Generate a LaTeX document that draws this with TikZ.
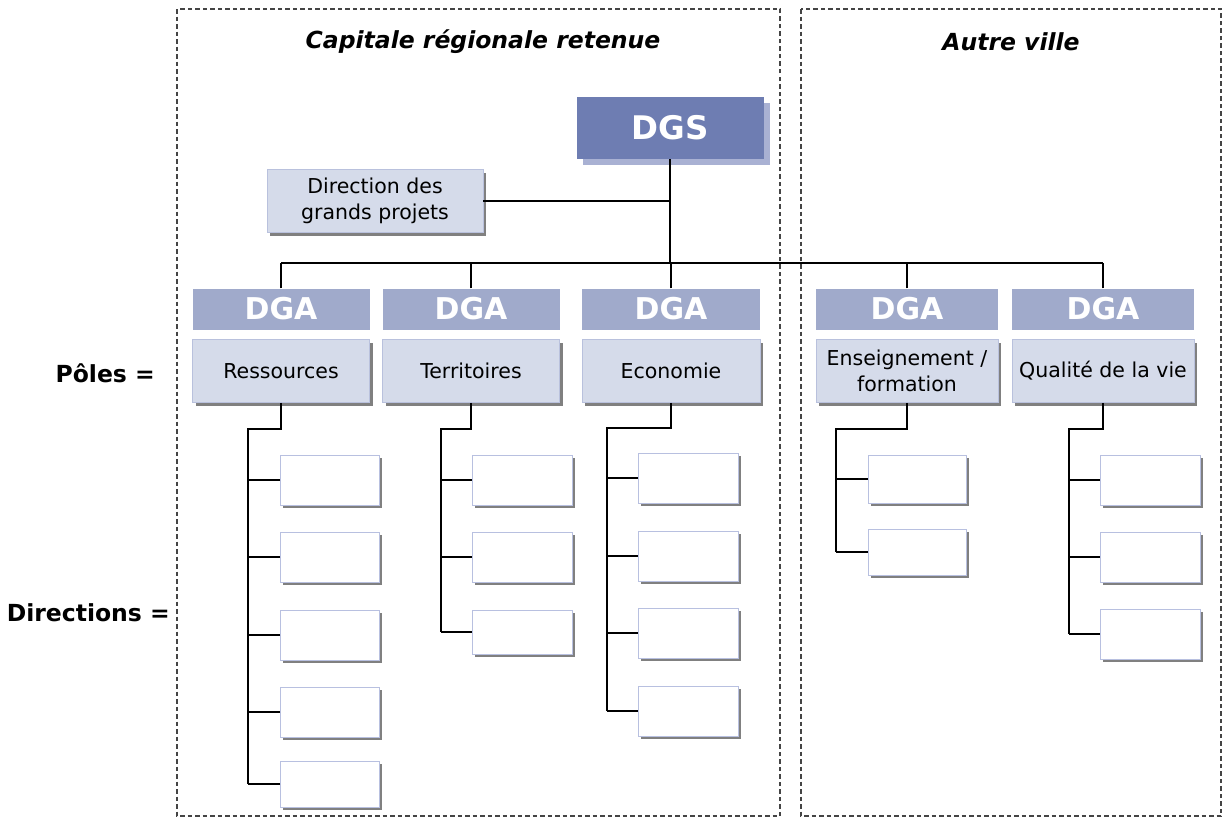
\documentclass[tikz,border=0pt]{standalone}
\usepackage{fontspec}
\setmainfont{DejaVu Sans}
\usetikzlibrary{shadows}
\definecolor{dgsfill}{HTML}{6E7DB2}
\definecolor{dgsshadow}{HTML}{A9B1D3}
\definecolor{dgafill}{HTML}{A0AACB}
\definecolor{polefill}{HTML}{D5DBEA}
\definecolor{poleborder}{HTML}{B9C1DD}
\definecolor{subborder}{HTML}{B8C0E0}
\definecolor{frame}{HTML}{444444}
\tikzset{
  frm/.style={draw=frame, line width=1.2pt, dash pattern=on 4.5pt off 3pt},
  dgsbox/.style={fill=dgsfill, draw=none, text=white, inner sep=0pt,
    font=\fontsize{32.5}{36}\selectfont\bfseries,
    drop shadow={shadow xshift=6pt, shadow yshift=-6pt, fill=dgsshadow, opacity=1}},
  dgabox/.style={fill=dgafill, draw=none, text=white, inner sep=0pt,
    font=\fontsize{30}{34}\selectfont\bfseries},
  polebox/.style={fill=polefill, draw=poleborder, line width=0.8pt, inner sep=0pt,
    align=center, font=\fontsize{20.5}{25.5}\selectfont,
    drop shadow={shadow xshift=3pt, shadow yshift=-3pt, fill=black!50, opacity=1}},
  subbox/.style={fill=white, draw=subborder, line width=1pt, inner sep=0pt,
    drop shadow={shadow xshift=2.5pt, shadow yshift=-2.5pt, fill=black!50, opacity=1}},
  conn/.style={draw=black, line width=1.3pt},
  ttl/.style={font=\fontsize{23.5}{27}\selectfont\bfseries\itshape},
  lbl/.style={font=\fontsize{23.5}{27}\selectfont\bfseries, anchor=east, inner sep=0pt}
}
\begin{document}
\begin{tikzpicture}[x=1pt,y=-1pt]
\useasboundingbox (0,0) rectangle (1223,819);
% frames
\draw[frm] (177,9) rectangle (780,816);
\draw[frm] (801,9) rectangle (1221,816);
\node[ttl] (t1) at (483,42) {Capitale régionale retenue};
\node[ttl] (t2) at (1011,42) {Autre ville};
\node[lbl] (lp) at (155,373) {Pôles =};
\node[lbl] (ld) at (170,613) {Directions =};
% DGS
\node[dgsbox, minimum width=187pt, minimum height=62pt] (dgs) at (670,128) {DGS};
\node[polebox, minimum width=216pt, minimum height=63pt] (dgp) at (375,201) {Direction des\\grands projets};
% DGA headers
\node[dgabox, minimum width=177pt, minimum height=41pt] (dga1) at (281,309) {DGA};
\node[dgabox, minimum width=177pt, minimum height=41pt] (dga2) at (471,309) {DGA};
\node[dgabox, minimum width=178pt, minimum height=41pt] (dga3) at (671,309) {DGA};
\node[dgabox, minimum width=182pt, minimum height=41pt] (dga4) at (907,309) {DGA};
\node[dgabox, minimum width=182pt, minimum height=41pt] (dga5) at (1103,309) {DGA};
% poles
\node[polebox, minimum width=177pt, minimum height=63pt] (p1) at (281,371) {Ressources};
\node[polebox, minimum width=177pt, minimum height=63pt] (p2) at (471,371) {Territoires};
\node[polebox, minimum width=178pt, minimum height=63pt] (p3) at (671,371) {Economie};
\node[polebox, minimum width=182pt, minimum height=63pt] (p4) at (907,371) {Enseignement /\\formation};
\node[polebox, minimum width=182pt, minimum height=63pt] (p5) at (1103,371) {Qualité de la vie};
% sub boxes
\foreach \n/\y/\h in {1/480/50, 2/557/50, 3/635/50, 4/712/50, 5/784/46}
  \node[subbox, minimum width=99pt, minimum height=\h pt] (s1\n) at (330,\y) {};
\foreach \n/\y/\h in {1/480/50, 2/557/50, 3/632/44}
  \node[subbox, minimum width=100pt, minimum height=\h pt] (s2\n) at (522,\y) {};
\foreach \n/\y/\h in {1/478/50, 2/556/50, 3/633/50, 4/711/50}
  \node[subbox, minimum width=100pt, minimum height=\h pt] (s3\n) at (688,\y) {};
\foreach \n/\y/\h in {1/479/48, 2/552/46}
  \node[subbox, minimum width=98pt, minimum height=\h pt] (s4\n) at (917,\y) {};
\foreach \n/\y/\h in {1/480/50, 2/557/50, 3/634/50}
  \node[subbox, minimum width=100pt, minimum height=\h pt] (s5\n) at (1150,\y) {};
% bus
\coordinate (busL) at (281,263);
\coordinate (busR) at (1103,263);
\draw[conn] (busL) -- (busR);
\draw[conn] (dgs.south) -- (dgs.south |- busL);
\draw[conn] (dgp.east) -- (dgp.east -| dgs.south);
\foreach \i in {1,...,5}
  \draw[conn] (dga\i.north) -- (dga\i.north |- busL);
% trunks
\coordinate (tr1) at (248,429);
\coordinate (tr2) at (441,429);
\coordinate (tr3) at (607,428);
\coordinate (tr4) at (836,429);
\coordinate (tr5) at (1069,429);
\draw[conn] (p1.south) |- (tr1) -- (tr1 |- s15.west);
\draw[conn] (p2.south) |- (tr2) -- (tr2 |- s23.west);
\draw[conn] (p3.south) |- (tr3) -- (tr3 |- s34.west);
\draw[conn] (p4.south) |- (tr4) -- (tr4 |- s42.west);
\draw[conn] (p5.south) |- (tr5) -- (tr5 |- s53.west);
\foreach \n in {1,...,5} \draw[conn] (s1\n.west) -- (s1\n.west -| tr1);
\foreach \n in {1,...,3} \draw[conn] (s2\n.west) -- (s2\n.west -| tr2);
\foreach \n in {1,...,4} \draw[conn] (s3\n.west) -- (s3\n.west -| tr3);
\foreach \n in {1,2} \draw[conn] (s4\n.west) -- (s4\n.west -| tr4);
\foreach \n in {1,...,3} \draw[conn] (s5\n.west) -- (s5\n.west -| tr5);
\end{tikzpicture}
\end{document}
